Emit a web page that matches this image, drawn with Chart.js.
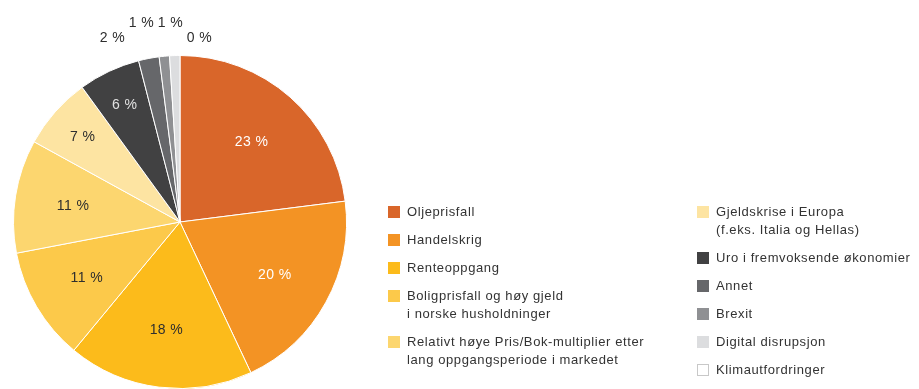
<!DOCTYPE html>
<html>
<head>
<meta charset="utf-8">
<script src="https://cdn.jsdelivr.net/npm/chart.js@4/dist/chart.umd.min.js"></script>
<style>
  html, body { margin: 0; padding: 0; background: #ffffff; overflow: hidden; }
  canvas { display: block; }
</style>
</head>
<body>
<canvas id="c" width="919" height="389"></canvas>
<script>
// Risk factors (multi-line labels are given as arrays of lines)
const categories = [
  'Oljeprisfall',
  'Handelskrig',
  'Renteoppgang',
  ['Boligprisfall og høy gjeld', 'i norske husholdninger'],
  ['Relativt høye Pris/Bok-multiplier etter', 'lang oppgangsperiode i markedet'],
  ['Gjeldskrise i Europa', '(f.eks. Italia og Hellas)'],
  'Uro i fremvoksende økonomier',
  'Annet',
  'Brexit',
  'Digital disrupsjon',
  'Klimautfordringer'
];

// Share of answers, in percent
const shares = [23, 20, 18, 11, 11, 7, 6, 2, 1, 1, 0];

const sliceColors = [
  '#D9662A', '#F39324', '#FCBB1B', '#FCC94A', '#FCD66F', '#FDE4A2',
  '#414142', '#66676A', '#8F9093', '#DCDDDF', '#FFFFFF'
];
const valueTextColors = [
  '#FFFFFF', '#FFFFFF', '#2E2E2E', '#2E2E2E', '#2E2E2E', '#2E2E2E',
  '#E0E0E0', '#2E2E2E', '#2E2E2E', '#2E2E2E', '#2E2E2E'
];

const FONT = '"Liberation Sans", Arial, Helvetica, sans-serif';

// Percentage labels: inside large slices, in a staggered row above the pie for small ones
const sliceLabels = {
  id: 'sliceLabels',
  afterDatasetsDraw(chart) {
    const ctx = chart.ctx;
    const meta = chart.getDatasetMeta(0);
    ctx.save();
    ctx.font = '14px ' + FONT;
    ctx.letterSpacing = '0.4px';
    ctx.textAlign = 'center';
    ctx.textBaseline = 'middle';
    const outside = [];
    let cx = 0, cy = 0, R = 0;
    meta.data.forEach((arc, i) => {
      const p = arc.getProps(['x', 'y', 'startAngle', 'endAngle', 'outerRadius'], true);
      cx = p.x; cy = p.y; R = p.outerRadius;
      const v = shares[i];
      const text = v + ' %';
      const mid = (p.startAngle + p.endAngle) / 2;
      if (v >= 5) {
        const f = v >= 10 ? 0.65 : 0.78;
        ctx.fillStyle = valueTextColors[i];
        ctx.fillText(text, p.x + Math.cos(mid) * R * f, p.y + Math.sin(mid) * R * f + 1);
      } else {
        outside.push(text);
      }
    });
    const n = outside.length;
    const step = 29, shift = -24;
    ctx.fillStyle = '#2E2E2E';
    outside.forEach((text, i) => {
      const x = cx + shift + (i - (n - 1) / 2) * step;
      const edge = (i === 0 || i === n - 1);
      const y = cy - R - (edge ? 17 : 32);
      ctx.fillText(text, x, y);
    });
    ctx.restore();
  }
};

// Two-column legend to the right of the pie
const sideLegend = {
  id: 'sideLegend',
  afterDraw(chart) {
    const ctx = chart.ctx;
    const columns = [
      { x: 388, from: 0, to: 5 },
      { x: 697, from: 5, to: 11 }
    ];
    const top = 212, lineH = 18, gap = 10, box = 12, textGap = 7;
    ctx.save();
    ctx.font = '13px ' + FONT;
    ctx.letterSpacing = '0.6px';
    ctx.textAlign = 'left';
    ctx.textBaseline = 'middle';
    columns.forEach(col => {
      let y = top;
      for (let i = col.from; i < col.to; i++) {
        const lines = Array.isArray(categories[i]) ? categories[i] : [categories[i]];
        ctx.fillStyle = sliceColors[i];
        ctx.fillRect(col.x, y - box / 2, box, box);
        if (sliceColors[i].toUpperCase() === '#FFFFFF') {
          ctx.strokeStyle = '#C8C8C8';
          ctx.lineWidth = 1;
          ctx.strokeRect(col.x + 0.5, y - box / 2 + 0.5, box - 1, box - 1);
        }
        ctx.fillStyle = '#333333';
        lines.forEach((ln, k) => ctx.fillText(ln, col.x + box + textGap, y + k * lineH));
        y += lines.length * lineH + gap;
      }
    });
    ctx.restore();
  }
};

new Chart(document.getElementById('c'), {
  type: 'pie',
  data: {
    labels: categories,
    datasets: [{
      data: shares,
      backgroundColor: sliceColors,
      borderColor: '#FFFFFF',
      borderWidth: 1
    }]
  },
  options: {
    responsive: false,
    animation: false,
    events: [],
    layout: { padding: { left: 13, top: 55, right: 572, bottom: 0 } },
    plugins: {
      legend: { display: false },
      tooltip: { enabled: false }
    }
  },
  plugins: [sliceLabels, sideLegend]
});
</script>
</body>
</html>
